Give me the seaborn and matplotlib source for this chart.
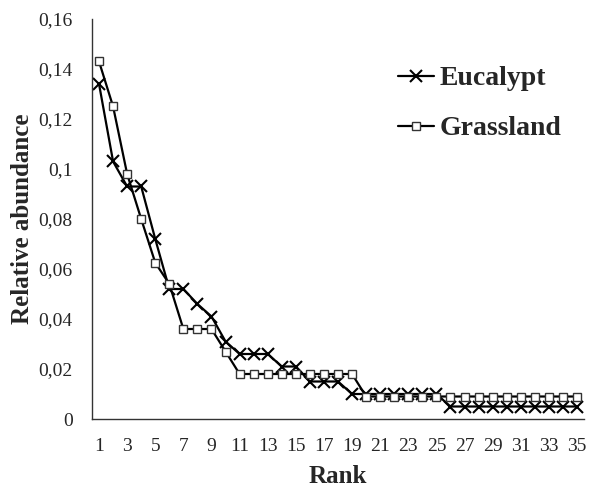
import matplotlib
matplotlib.use("Agg")
import matplotlib.pyplot as plt
import seaborn as sns

ranks = list(range(1, 36))
eucalypt = [0.134, 0.103, 0.093, 0.093, 0.072, 0.052, 0.052, 0.046, 0.041, 0.031,
            0.026, 0.026, 0.026, 0.021, 0.021, 0.015, 0.015, 0.015, 0.010, 0.010,
            0.010, 0.010, 0.010, 0.010, 0.010, 0.005, 0.005, 0.005, 0.005, 0.005,
            0.005, 0.005, 0.005, 0.005, 0.005]
grassland = [0.143, 0.125, 0.098, 0.080, 0.0625, 0.054, 0.036, 0.036, 0.036, 0.027,
             0.018, 0.018, 0.018, 0.018, 0.018, 0.018, 0.018, 0.018, 0.018, 0.009,
             0.009, 0.009, 0.009, 0.009, 0.009, 0.009, 0.009, 0.009, 0.009, 0.009,
             0.009, 0.009, 0.009, 0.009, 0.009]
yticks = [0, 0.02, 0.04, 0.06, 0.08, 0.10, 0.12, 0.14, 0.16]
ytick_labels = ["0", "0,02", "0,04", "0,06", "0,08", "0,1", "0,12", "0,14", "0,16"]
xtick_vals = list(range(1, 36, 2))

sns.set_style("white")
plt.rcParams['font.family'] = ['Liberation Serif', 'DejaVu Serif']

fig = plt.figure(figsize=(6.01, 4.90), dpi=100)
ax = fig.add_axes([92/601, 1-419/490, (584-92)/601, (419-19)/490])

sns.lineplot(x=ranks, y=eucalypt, ax=ax, color='black', marker='x', markersize=9,
             markeredgecolor='black', markeredgewidth=1.5, linewidth=1.6, label='Eucalypt')
sns.lineplot(x=ranks, y=grassland, ax=ax, color='black', marker='s', markersize=6,
             markerfacecolor='white', markeredgecolor='#333333', markeredgewidth=1.0,
             linewidth=1.6, label='Grassland')

ax.set_xlim(0.5, 35.5)
ax.set_ylim(0, 0.16)
ax.set_yticks(yticks)
ax.set_yticklabels(ytick_labels, fontsize=14)
ax.set_xticks([r + 0.5 for r in range(0, 36)], minor=False)
ax.set_xticklabels([])
ax.set_xticks(xtick_vals, minor=True)
ax.set_xticklabels([str(v) for v in xtick_vals], minor=True, fontsize=14)
ax.tick_params(axis='x', which='major', direction='out', length=4, width=1, color='#333333')
ax.tick_params(axis='x', which='minor', length=0, pad=14)
ax.tick_params(axis='y', direction='out', length=4, width=1, color='#333333', pad=10)

for s in ['top', 'right']:
    ax.spines[s].set_visible(False)
for s in ['left', 'bottom']:
    ax.spines[s].set_color('#333333')
    ax.spines[s].set_linewidth(1.0)

ax.set_xlabel("Rank", fontsize=18, fontweight='bold', labelpad=7)
ax.set_ylabel("Relative abundance", fontsize=18, fontweight='bold', labelpad=3)

leg = ax.legend(loc='upper left', bbox_to_anchor=(398/601, 1-66/490),
                bbox_transform=fig.transFigure, frameon=False,
                prop={'family': 'Liberation Serif', 'weight': 'bold', 'size': 20},
                handlelength=1.3, handletextpad=0.2, labelspacing=0.88,
                borderpad=0, borderaxespad=0, markerscale=1.0)

fig.savefig("out.png", dpi=100)
